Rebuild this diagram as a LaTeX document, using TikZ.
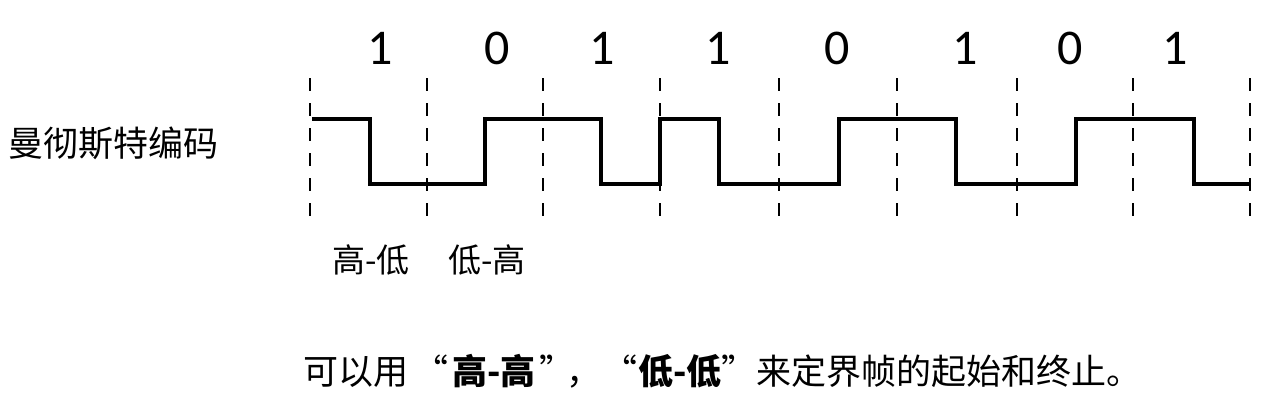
\documentclass[tikz,border=0pt]{standalone}
\usepackage{fontspec}
\setmainfont{Carlito}
\newfontfamily\cjk{Noto Sans CJK SC}
% wide quotes and bold words
\newcommand\qopen[1]{\makebox[#1][r]{“}}
\newcommand\qclose[1]{\makebox[#1][l]{”}}
\newcommand\qword[2]{\makebox[#1]{\textbf{#2}}}
\begin{document}
\begin{tikzpicture}[x=1pt,y=-1pt,
    bitline/.style={dash pattern=on 13pt off 12pt,line width=1.8pt},
    wave/.style={line width=4pt},
    digit/.style={font=\fontsize{50}{50}\selectfont},
    cjktext/.style={font=\cjk\fontsize{33}{33}\selectfont}]
  \useasboundingbox (0,0) rectangle (1283,400);

  % bit borders
  \foreach \x in {310,427,543,660,779,897,1017,1133,1250}
    \draw[bitline] (\x,78) -- (\x,217);

  % the bits
  \foreach \x/\b [count=\i] in {380/1,497/0,602/1,718/1,837/0,965/1,1070/0,1175/1}
    \node[digit] (bit\i) at (\x,48) {\b};

  % manchester signal
  \draw[wave] (312,119) -- (370,119) -- (370,184) -- (485,184) -- (485,119)
    -- (601,119) -- (601,184) -- (660,184) -- (660,119) -- (719,119)
    -- (719,184) -- (839,184) -- (839,119) -- (956,119) -- (956,184)
    -- (1076,184) -- (1076,119) -- (1194,119) -- (1194,184) -- (1250,184);

  \node[cjktext,font=\cjk\fontsize{35}{35}\selectfont] (name) at (114,143) {曼彻斯特编码};
  \node[cjktext] (hl) at (371,260) {高-低};
  \node[cjktext] (lh) at (487,260) {低-高};
  \node[cjktext,font=\cjk\fontsize{35}{35}\selectfont,anchor=west] (note) at (300,371)
    {可以用\qopen{1.15em}\qword{2.6em}{高-高}\qclose{0.75em}，\qopen{1.05em}\qword{2.4em}{低-低}\qclose{1em}来定界帧的起始和终止。};
\end{tikzpicture}
\end{document}
